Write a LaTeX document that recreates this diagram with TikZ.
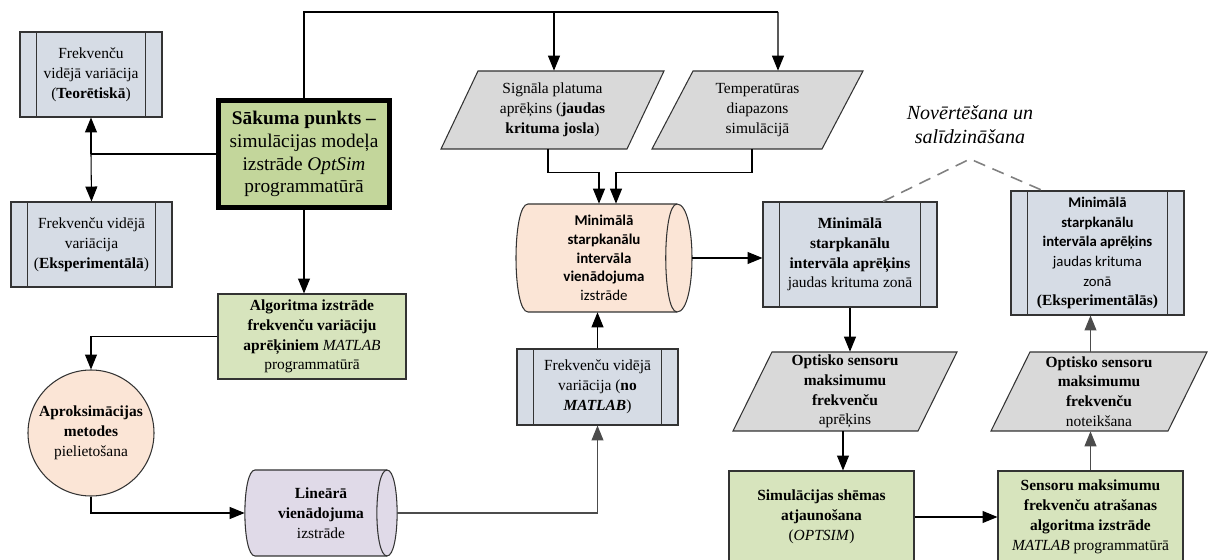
\documentclass[tikz,border=0pt]{standalone}
\usepackage{fontspec}
\setmainfont{Liberation Serif}
\newfontfamily\carl{Carlito}
\usetikzlibrary{arrows.meta,calc,backgrounds}
\definecolor{procfill}{HTML}{D6DCE5}
\definecolor{greenfill}{HTML}{D7E4BD}
\definecolor{startfill}{HTML}{C3D69B}
\definecolor{peachfill}{HTML}{FBE5D6}
\definecolor{lavfill}{HTML}{E0DAE8}
\definecolor{grayfill}{HTML}{D9D9D9}
\definecolor{linec}{HTML}{333333}
\definecolor{dashc}{HTML}{808080}
\tikzset{
  sz/.style 2 args={minimum width=#1*0.02cm, minimum height=#2*0.02cm},
  base/.style={inner sep=0pt, align=center, font=\fontsize{8.8}{11.3}\selectfont},
  proc/.style={base, draw=linec, line width=0.6pt, fill=procfill, rectangle,
    path picture={\draw[linec, line width=0.6pt]
      ([xshift=0.33cm]path picture bounding box.north west) -- ([xshift=0.33cm]path picture bounding box.south west)
      ([xshift=-0.33cm]path picture bounding box.north east) -- ([xshift=-0.33cm]path picture bounding box.south east);}},
  gbox/.style={base, draw=linec, line width=0.6pt, fill=greenfill, rectangle},
  txt/.style={base},
  shp/.style={draw=linec, line width=0.6pt},
  conn/.style={draw=black, line width=0.6pt},
  arr/.style={conn, -{Triangle[length=8.5pt,width=6.8pt]}},
}
\begin{document}
\begin{tikzpicture}[x=0.02cm,y=-0.02cm]
\useasboundingbox (0,0) rectangle (1208,560);

% ---- left column ----
\node[proc, sz={142}{85}] (teor) at (91,74.5) {Frekvenču\\vidējā variācija\\(\textbf{Teorētiskā})};
\node[proc, sz={161}{85}] (eksp) at (91.5,244.5) {Frekvenču vidējā\\variācija\\(\textbf{Eksperimentālā})};
\node[base, draw=black, line width=2.4pt, fill=startfill, rectangle, sz={171}{107},
      font=\fontsize{11}{13}\selectfont] (sak) at (304,154)
      {\textbf{Sākuma punkts –}\\simulācijas modeļa\\izstrāde \textit{OptSim}\\programmatūrā};
\node[gbox, sz={188}{85}] (alg) at (312,336.5)
      {\textbf{Algoritma izstrāde}\\\textbf{frekvenču variāciju}\\\textbf{aprēķiniem} \textit{MATLAB}\\programmatūrā};
\node[base, circle, draw=linec, line width=0.6pt, fill=peachfill, minimum size=126*0.02cm] (aprox) at (91,433)
      {\textbf{Aproksimācijas}\\\textbf{metodes}\\pielietošana};
\node[txt, sz={152}{86}] (lin) at (321,513) {\textbf{Lineārā}\\\textbf{vienādojuma}\\izstrāde};

% ---- middle column ----
\node[txt, sz={223}{78}] (sig) at (552.5,110) {Signāla platuma\\aprēķins (\textbf{jaudas}\\\textbf{krituma josla})};
\node[txt, sz={211}{78}] (temp) at (757.5,110) {Temperatūras\\diapazons\\simulācijā};
\node[txt, sz={176}{108}, font=\carl\fontsize{8.5}{10.6}\selectfont] (minc) at (604,258)
      {\textbf{Minimālā}\\\textbf{starpkanālu}\\\textbf{intervāla}\\\textbf{vienādojuma}\\izstrāde};
\node[proc, sz={161}{76}] (fm) at (597.5,387) {Frekvenču vidējā\\variācija (\textbf{no}\\\textbf{\textit{MATLAB}})};

% ---- right columns ----
\node[proc, sz={174}{105}] (r1) at (850,254.5)
      {\textbf{Minimālā}\\\textbf{starpkanālu}\\\textbf{intervāla aprēķins}\\jaudas krituma zonā};
\node[proc, sz={173}{124}, font=\carl\fontsize{8.4}{11.2}\selectfont] (r2) at (1097.5,253)
      {\textbf{Minimālā}\\\textbf{starpkanālu}\\\textbf{intervāla aprēķins}\\jaudas krituma\\zonā\\{\rmfamily\fontsize{8.8}{11.2}\selectfont\textbf{(Eksperimentālās)}}};
\node[txt, sz={224}{79}] (opt1) at (845,391.5)
      {\textbf{Optisko sensoru}\\\textbf{maksimumu}\\\textbf{frekvenču}\\aprēķins};
\node[txt, sz={216}{79}] (opt2) at (1099,391.5)
      {\textbf{Optisko sensoru}\\\textbf{maksimumu}\\\textbf{frekvenču}\\noteikšana};
\node[gbox, sz={185}{92}] (sim) at (821.5,517)
      {\textbf{Simulācijas shēmas}\\\textbf{atjaunošana}\\(\textit{OPTSIM})};
\node[gbox, sz={185}{92}] (sens) at (1090.5,517)
      {\textbf{Sensoru maksimumu}\\\textbf{frekvenču atrašanas}\\\textbf{algoritma izstrāde}\\\textit{MATLAB} programmatūrā};
\node[txt, font=\itshape\fontsize{11.4}{13.6}\selectfont] (note) at (970,125) {Novērtēšana un\\salīdzināšana};

% ---- shapes behind the text ----
\begin{scope}[on background layer]
  % parallelograms
  \filldraw[shp, fill=grayfill] (441,149) -- (627,149) -- (664,71) -- (478,71) -- cycle;
  \filldraw[shp, fill=grayfill] (652,149) -- (822,149) -- (863,71) -- (693,71) -- cycle;
  \filldraw[shp, fill=grayfill] (733,431) -- (918,431) -- (957,352) -- (772,352) -- cycle;
  \filldraw[shp, fill=grayfill] (991,431) -- (1168,431) -- (1207,352) -- (1030,352) -- cycle;
  % cylinder Minimala
  \filldraw[shp, fill=peachfill] (528,204) -- (677,204) .. controls (697,204) and (697,312) .. (677,312)
     -- (528,312) .. controls (512,312) and (512,204) .. (528,204) -- cycle;
  \draw[shp] (677,204) .. controls (662,204) and (662,312) .. (677,312);
  % cylinder Linear
  \filldraw[shp, fill=lavfill] (255,470) -- (387,470) .. controls (400.5,470) and (400.5,556) .. (387,556)
     -- (255,556) .. controls (241.5,556) and (241.5,470) .. (255,470) -- cycle;
  \draw[shp] (387,470) .. controls (373.5,470) and (373.5,556) .. (387,556);
\end{scope}

% ---- connectors ----
\coordinate (j1) at (teor.south |- sak.west);
\draw[conn] (sak.west) -- (j1);
\draw[arr] (j1) -- (teor.south);
\draw[arr] (j1) -- (eksp.north);

\coordinate (tr) at (778,12);
\coordinate (temptop) at ($(temp.north)+(20.5,0)$);
\coordinate (sigtop) at ($(sig.north)+(1.5,0)$);
\draw[conn] (sak.north) |- (tr);
\draw[arr] (tr) -- (temptop);
\draw[arr] (sigtop |- tr) -- (sigtop);

\coordinate (sigbot) at ($(sig.south)+(-4.5,0)$);
\coordinate (tempbot) at ($(temp.south)+(-5.5,0)$);
\coordinate (mincin1) at ($(minc.north)+(-5,0)$);
\coordinate (mincin2) at ($(minc.north)+(12,0)$);
\draw[arr] (sigbot) -- ++(0,23) -| (mincin1);
\draw[arr] (tempbot) -- ++(0,23) -| (mincin2);

\draw[arr] (sak.south) -- (sak.south |- alg.north);
\draw[arr] (alg.west) -| (aprox.north);
\draw[arr] (aprox.south) |- (lin.west);
\draw[arr, draw=black!70] (lin.east) -| (fm.south);
\draw[arr] (fm.north) -- (fm.north |- minc.south);
\draw[arr] (minc.east) -- (minc.east -| r1.west);

\coordinate (opt1bot) at ($(opt1.south)+(-2,0)$);
\draw[arr] (r1.south) -- (r1.south |- opt1.north);
\draw[arr] (opt1bot) -- (opt1bot |- sim.north);
\draw[arr] (sim.east) -- (sim.east -| sens.west);
\draw[arr, draw=black!70] (sens.north) -- (sens.north |- opt2.south);
\draw[arr, draw=black!70] (sens.north |- opt2.north) -- (sens.north |- r2.south);

\coordinate (apex) at (970,159);
\coordinate (d1) at ($(r1.north)+(33,0)$);
\coordinate (d2) at ($(r2.north)+(-55,0)$);
\draw[dashc, line width=0.9pt, dash pattern=on 7pt off 4.5pt] (d1) -- (apex) -- (d2);
\end{tikzpicture}
\end{document}
